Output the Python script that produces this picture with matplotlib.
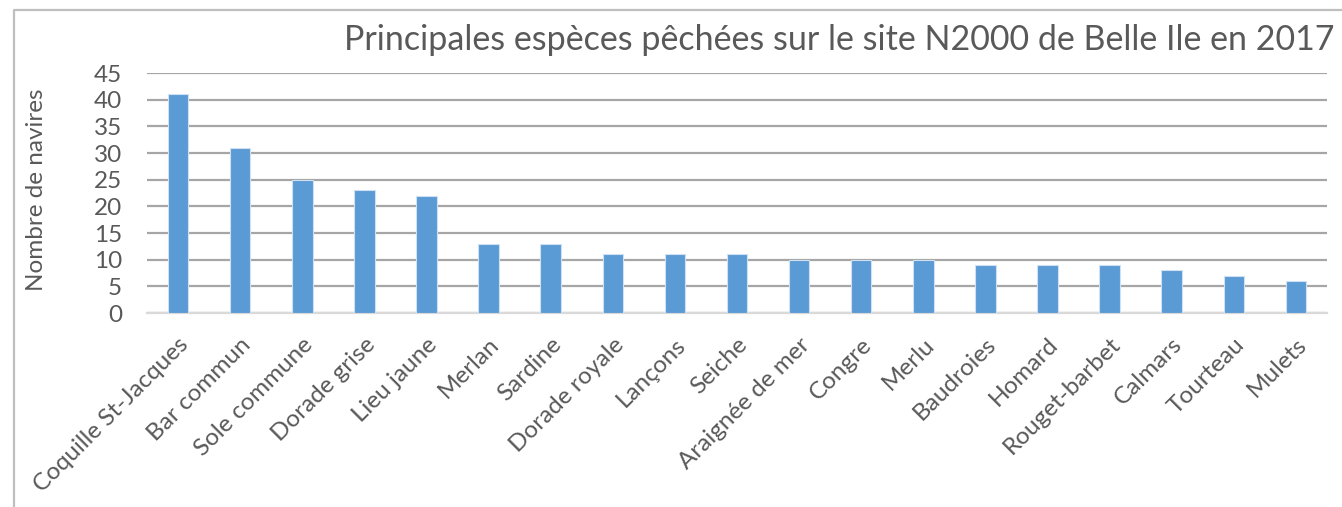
import matplotlib
matplotlib.use("Agg")
import matplotlib.pyplot as plt
from matplotlib.lines import Line2D

especes = ["Coquille St-Jacques", "Bar commun", "Sole commune", "Dorade grise",
           "Lieu jaune", "Merlan", "Sardine", "Dorade royale", "Lançons", "Seiche",
           "Araignée de mer", "Congre", "Merlu", "Baudroies", "Homard",
           "Rouget-barbet", "Calmars", "Tourteau", "Mulets"]
navires = [41, 31, 25, 23, 22, 13, 13, 11, 11, 11, 10, 10, 10, 9, 9, 9, 8, 7, 6]
yticks = [0, 5, 10, 15, 20, 25, 30, 35, 40, 45]

TXT = "#595959"
FS = 17.5
plt.rcParams["font.family"] = ["Lato", "DejaVu Sans"]

W, H = 1342, 507
fig = plt.figure(figsize=(W / 100, H / 100), dpi=100)
ax = fig.add_axes([147 / W, 1 - 313 / H, (1327 - 147) / W, (313 - 73) / H])

x = range(len(especes))
ax.bar(x, navires, width=0.33, color="#5B9BD5", edgecolor="#CFE0F2",
       linewidth=0.8, zorder=3)

ax.set_xlim(-0.5, len(especes) - 0.5)
ax.set_ylim(0, 45)
ax.set_yticks(yticks)
ax.set_yticklabels([str(v) for v in yticks], fontsize=FS, color=TXT)
ax.set_xticks(list(x))
ax.set_xticklabels(especes, rotation=45, ha="right", va="top",
                   rotation_mode="anchor", fontsize=FS, color=TXT)
ax.tick_params(axis="both", length=0)
ax.tick_params(axis="y", pad=18)
ax.tick_params(axis="x", pad=15)

ax.grid(axis="y", color="#A6A6A6", linewidth=1.6, zorder=0)
for s in ["top", "right", "left"]:
    ax.spines[s].set_visible(False)
ax.spines["bottom"].set_color("#D9D9D9")
ax.spines["bottom"].set_linewidth(1.6)
ax.spines["bottom"].set_zorder(2)

fig.text(37 / W, 1 - 190 / H, "Nombre de navires", rotation=90, fontsize=FS,
         color=TXT, ha="center", va="center")

fig.text(1335 / W, 1 - 40 / H,
         "Principales espèces pêchées sur le site N2000 de Belle Ile en 2017",
         fontsize=24.5, color=TXT, ha="right", va="center")

# chart area border
fig.add_artist(Line2D([13.5 / W, 13.5 / W, 1.01], [-0.01, 1 - 9.5 / H, 1 - 9.5 / H],
                      transform=fig.transFigure, color="#BFBFBF", linewidth=1.6))

fig.savefig("out.png", dpi=100)
